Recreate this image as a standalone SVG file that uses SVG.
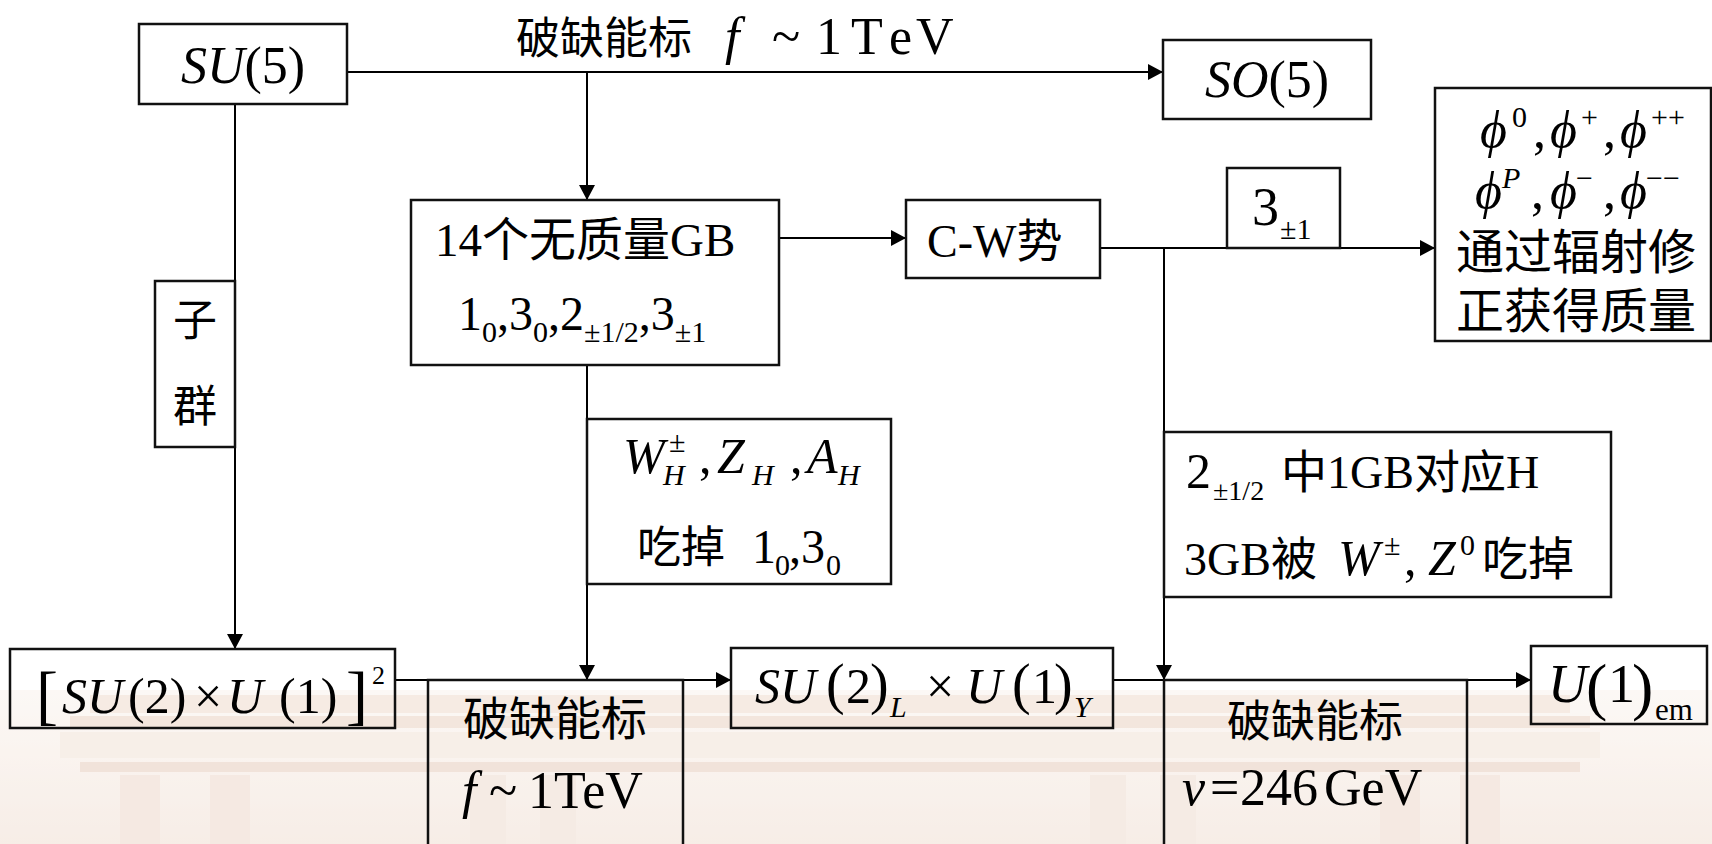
<svg xmlns="http://www.w3.org/2000/svg" width="1712" height="844" viewBox="0 0 1712 844">
<defs>
<style>
.t{font-family:"Liberation Serif","Noto Sans CJK SC",serif;fill:#000}
.i{font-style:italic}
.box{fill:none;stroke:#111;stroke-width:2.5}
.ln{fill:none;stroke:#000;stroke-width:2}
.arr{marker-end:url(#ah)}
</style>
<marker id="ah" markerUnits="userSpaceOnUse" markerWidth="16" markerHeight="16" refX="15" refY="8" orient="auto">
<path d="M0,0 L15,8 L0,16 z" fill="#000"/>
</marker>
<linearGradient id="bg" x1="0" y1="0" x2="0" y2="1">
<stop offset="0" stop-color="#fbf5f0"/>
<stop offset="1" stop-color="#f2e2d7"/>
</linearGradient>
</defs>
<rect x="0" y="0" width="1712" height="844" fill="#fff"/>
<g id="watermark" opacity="0.6">
<rect x="0" y="690" width="1712" height="154" fill="url(#bg)"/>
<rect x="90" y="695" width="1480" height="18" fill="#f1dfd2"/>
<rect x="70" y="716" width="1520" height="12" fill="#ecd6c7"/>
<rect x="60" y="732" width="1540" height="26" fill="#f3e5da"/>
<rect x="80" y="762" width="1500" height="10" fill="#e9d2c3"/>
<rect x="120" y="775" width="40" height="69" fill="#efdccf"/>
<rect x="210" y="775" width="40" height="69" fill="#efdccf"/>
<rect x="470" y="775" width="36" height="69" fill="#f0dfd3"/>
<rect x="540" y="775" width="36" height="69" fill="#f0dfd3"/>
<rect x="1090" y="775" width="36" height="69" fill="#f0dfd3"/>
<rect x="1160" y="775" width="36" height="69" fill="#f0dfd3"/>
<rect x="1380" y="775" width="40" height="69" fill="#efdccf"/>
<rect x="1460" y="775" width="40" height="69" fill="#efdccf"/>
</g>

<g id="connectors">
<line class="ln arr" x1="347" y1="72" x2="1163" y2="72"/>
<line class="ln arr" x1="587" y1="72" x2="587" y2="200"/>
<line class="ln arr" x1="235" y1="104" x2="235" y2="649"/>
<line class="ln arr" x1="779" y1="238" x2="906" y2="238"/>
<line class="ln arr" x1="1100" y1="248" x2="1435" y2="248"/>
<line class="ln arr" x1="1164" y1="248" x2="1164" y2="680"/>
<line class="ln arr" x1="587" y1="365" x2="587" y2="680"/>
<line class="ln arr" x1="395" y1="680" x2="731" y2="680"/>
<line class="ln arr" x1="1113" y1="680" x2="1531" y2="680"/>
</g>

<g id="title">
<text class="t" y="54" font-size="44"><tspan x="516">破缺能标</tspan><tspan x="725" class="i" font-size="52">f</tspan><tspan x="772" font-size="52">~</tspan><tspan x="816" font-size="52">1</tspan><tspan x="851" font-size="52">T</tspan><tspan x="889" font-size="52">e</tspan><tspan x="916" font-size="52">V</tspan></text>
</g>

<g id="su5">
<rect class="box" x="139" y="24" width="208" height="80"/>
<text class="t" x="243" y="83" font-size="52" text-anchor="middle"><tspan class="i">SU</tspan>(5)</text>
</g>

<g id="so5">
<rect class="box" x="1163" y="40" width="208" height="79"/>
<text class="t" x="1267" y="97" font-size="52" text-anchor="middle"><tspan class="i">SO</tspan>(5)</text>
</g>

<g id="subgroup">
<rect class="box" x="155" y="281" width="80" height="166"/>
<text class="t" x="195" y="336" font-size="44" text-anchor="middle">子</text>
<text class="t" x="195" y="422" font-size="44" text-anchor="middle">群</text>
</g>

<g id="gb14">
<rect class="box" x="411" y="200" width="368" height="165"/>
<text class="t" x="435" y="256" font-size="47">14个无质量GB</text>
<text class="t" x="458" y="330" font-size="48">1<tspan dy="12" font-size="30">0</tspan><tspan dy="-12">,3</tspan><tspan dy="12" font-size="30">0</tspan><tspan dy="-12">,2</tspan><tspan dy="12" font-size="30">±1/2</tspan><tspan dy="-12">,3</tspan><tspan dy="12" font-size="30">±1</tspan></text>
</g>

<g id="cw">
<rect class="box" x="906" y="200" width="194" height="78"/>
<text class="t" x="927" y="257" font-size="46">C-W势</text>
</g>

<g id="three">
<rect class="box" x="1227" y="168" width="113" height="80"/>
<text class="t" x="1252" y="225" font-size="54">3</text>
<text class="t" x="1280" y="239" font-size="30">±1</text>
</g>

<g id="phi">
<rect class="box" x="1435" y="88" width="276" height="253"/>
<text class="t" font-size="52"><tspan class="i" x="1480" y="147">ϕ</tspan><tspan x="1512" y="127" font-size="30">0</tspan><tspan x="1533" y="147">,</tspan><tspan class="i" x="1550" y="147">ϕ</tspan><tspan x="1581" y="127" font-size="30">+</tspan><tspan x="1603" y="147">,</tspan><tspan class="i" x="1620" y="147">ϕ</tspan><tspan x="1651" y="127" font-size="30">++</tspan></text>
<text class="t" font-size="52"><tspan class="i" x="1475" y="208">ϕ</tspan><tspan class="i" x="1502" y="188" font-size="30">P</tspan><tspan x="1531" y="208">,</tspan><tspan class="i" x="1550" y="208">ϕ</tspan><tspan x="1576" y="188" font-size="30">−</tspan><tspan x="1603" y="208">,</tspan><tspan class="i" x="1620" y="208">ϕ</tspan><tspan x="1646" y="188" font-size="30">−−</tspan></text>
<text class="t" x="1456" y="269" font-size="48">通过辐射修</text>
<text class="t" x="1456" y="328" font-size="48">正获得质量</text>
</g>

<g id="wh">
<rect class="box" x="587" y="419" width="304" height="165"/>
<text class="t" font-size="50"><tspan class="i" x="623" y="473">W</tspan><tspan x="669" y="452" font-size="30">±</tspan><tspan class="i" x="663" y="485" font-size="30">H</tspan><tspan x="699" y="473">,</tspan><tspan class="i" x="717" y="473">Z</tspan><tspan class="i" x="752" y="485" font-size="30">H</tspan><tspan x="790" y="473">,</tspan><tspan class="i" x="807" y="473">A</tspan><tspan class="i" x="838" y="485" font-size="30">H</tspan></text>
<text class="t" font-size="44"><tspan x="637" y="563">吃掉</tspan><tspan x="752" y="563" font-size="48">1</tspan><tspan x="775" y="575" font-size="30">0</tspan><tspan x="789" y="563" font-size="48">,3</tspan><tspan x="826" y="575" font-size="30">0</tspan></text>
</g>

<g id="h2">
<rect class="box" x="1164" y="432" width="447" height="165"/>
<text class="t" font-size="46"><tspan x="1186" y="488" font-size="50">2</tspan><tspan x="1213" y="500" font-size="28">±1/2</tspan><tspan x="1281" y="488">中1GB对应H</tspan></text>
<text class="t" font-size="46"><tspan x="1184" y="575">3GB被</tspan><tspan class="i" x="1338" y="575" font-size="50">W</tspan><tspan x="1384" y="555" font-size="30">±</tspan><tspan x="1404" y="575" font-size="50">,</tspan><tspan class="i" x="1428" y="575" font-size="50">Z</tspan><tspan x="1460" y="555" font-size="30">0</tspan><tspan x="1482" y="575">吃掉</tspan></text>
</g>

<g id="su2u1sq">
<rect class="box" x="10" y="649" width="385" height="79"/>
<text class="t" font-size="50"><tspan x="36" y="717" font-size="66">[</tspan><tspan class="i" x="62" y="713">SU</tspan><tspan x="128" y="713">(2)</tspan><tspan x="194" y="713">×</tspan><tspan class="i" x="227" y="713">U</tspan><tspan x="279" y="713">(1)</tspan><tspan x="346" y="717" font-size="66">]</tspan><tspan x="372" y="684" font-size="26">2</tspan></text>
</g>

<g id="break1">
<rect class="box" x="428" y="680" width="255" height="180"/>
<text class="t" x="555" y="735" font-size="46" text-anchor="middle">破缺能标</text>
<text class="t" y="808" font-size="52"><tspan class="i" x="462">f</tspan><tspan x="489">~</tspan><tspan x="528">1TeV</tspan></text>
</g>

<g id="su2u1">
<rect class="box" x="731" y="648" width="382" height="80"/>
<text class="t" font-size="50"><tspan class="i" x="755" y="703">SU</tspan><tspan x="826" y="703" font-size="56">(</tspan><tspan x="846" y="703">2</tspan><tspan x="870" y="703" font-size="56">)</tspan><tspan class="i" x="890" y="717" font-size="30">L</tspan><tspan x="926" y="703">×</tspan><tspan class="i" x="966" y="703">U</tspan><tspan x="1012" y="703" font-size="56">(</tspan><tspan x="1032" y="703">1</tspan><tspan x="1054" y="703" font-size="56">)</tspan><tspan class="i" x="1074" y="717" font-size="30">Y</tspan></text>
</g>

<g id="break2">
<rect class="box" x="1164" y="680" width="303" height="180"/>
<text class="t" x="1315" y="737" font-size="44" text-anchor="middle">破缺能标</text>
<text class="t" y="805" font-size="52"><tspan class="i" x="1182">v</tspan><tspan x="1210">=</tspan><tspan x="1240">246</tspan><tspan x="1324">GeV</tspan></text>
</g>

<g id="u1em">
<rect class="box" x="1531" y="646" width="176" height="78"/>
<text class="t" font-size="54"><tspan class="i" x="1548" y="702">U</tspan><tspan x="1586" y="708" font-size="64">(</tspan><tspan x="1608" y="702">1</tspan><tspan x="1632" y="708" font-size="64">)</tspan><tspan x="1655" y="720" font-size="31">em</tspan></text>
</g>
</svg>
